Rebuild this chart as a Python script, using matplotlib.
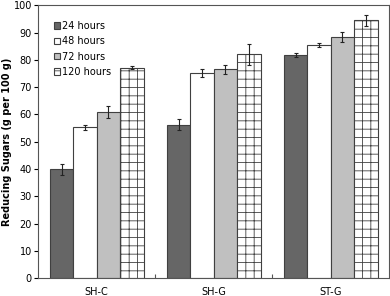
import numpy as np
import matplotlib.pyplot as plt

# data
groups = ["SH-C", "SH-G", "ST-G"]
series = ["24 hours", "48 hours", "72 hours", "120 hours"]
h24 = [40.0, 56.3, 81.7]
h48 = [55.3, 75.2, 85.5]
h72 = [60.8, 76.5, 88.5]
h120 = [77.2, 82.0, 94.5]
e24 = [2.0, 2.0, 0.8]
e48 = [0.8, 1.5, 0.6]
e72 = [2.2, 1.8, 1.8]
e120 = [0.5, 3.8, 2.0]

vals = [h24, h48, h72, h120]
errs = [e24, e48, e72, e120]
colors = ["#666666", "white", "#c0c0c0", "white"]
hatches = [None, None, None, "++"]

plt.rcParams['hatch.color'] = '#999999'
plt.rcParams['hatch.linewidth'] = 0.6

fig = plt.figure(figsize=(3.9, 2.96), dpi=100)
ax = fig.add_axes([0.098, 0.06, 0.9, 0.922])

x = np.arange(len(groups))
w = 0.2
for i in range(4):
    ax.bar(x - 0.3 + i * w, vals[i], w, color=colors[i], edgecolor="#404040",
           linewidth=0.8, hatch=hatches[i], label=series[i],
           yerr=errs[i], error_kw=dict(ecolor="#222222", elinewidth=0.8, capsize=1.5, capthick=0.8))

ax.set_xlim(-0.5, 2.5)
ax.set_ylim(0, 100)
ax.set_yticks(range(0, 101, 10))
ax.set_xticks([0.5, 1.5])
ax.set_xticklabels([])
ax.set_xticks(x, minor=True)
ax.set_xticklabels(groups, minor=True)
ax.tick_params(axis='x', which='minor', length=0, labelsize=7, pad=6)
ax.tick_params(axis='x', which='major', length=3, direction='in', color="#555555")
ax.tick_params(axis='y', labelsize=7, length=3, direction='out', pad=1.5)
ax.set_ylabel("Reducing Sugars (g per 100 g)", fontsize=7, fontweight='bold', labelpad=1)
for s in ax.spines.values():
    s.set_color("#555555")
    s.set_linewidth(0.8)

leg = ax.legend(loc="upper left", bbox_to_anchor=(0.02, 0.975), frameon=False, fontsize=7,
                handlelength=0.6, handleheight=0.6, handletextpad=0.2, labelspacing=0.55)

fig.savefig("out.png", dpi=100)
